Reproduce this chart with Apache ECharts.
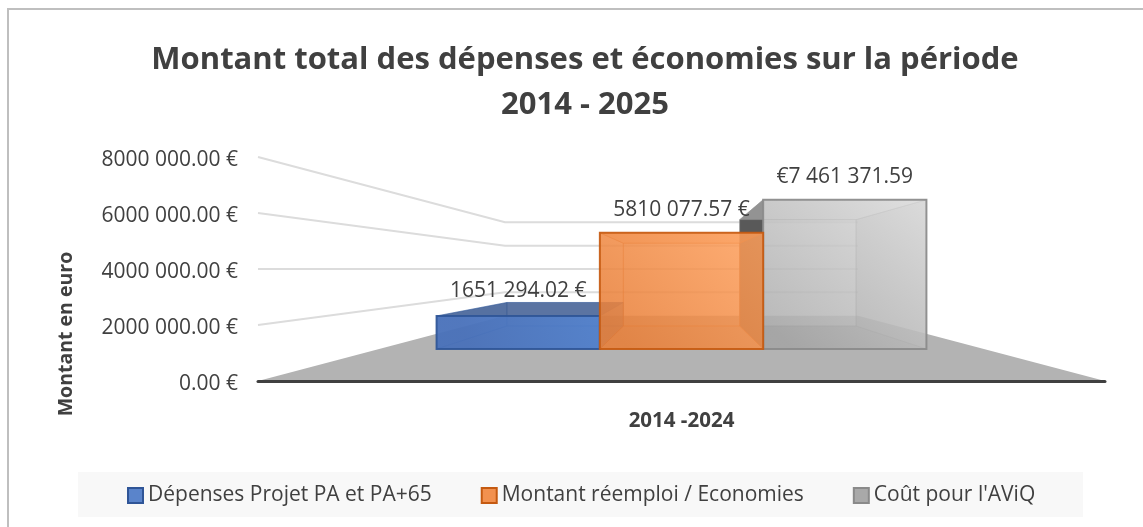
<!DOCTYPE html>
<html>
<head>
<meta charset="utf-8">
<style>
  html, body { margin: 0; padding: 0; background: #fff; }
  #chart { width: 1143px; height: 527px; }
</style>
<script src="https://cdn.jsdelivr.net/npm/echarts@6/dist/echarts.min.js"></script>
</head>
<body>
<div id="chart"></div>
<script>
var categories = ['2014 -2024'];
var seriesNames = ['Dépenses Projet PA et PA+65', 'Montant réemploi / Economies', "Coût pour l'AViQ"];
var depenses = [1651294.02];
var reemploi = [5810077.57];
var coutAviq = [7461371.59];
var tickValues = [0, 2000000, 4000000, 6000000, 8000000];
var tickLabels = ['0.00 €', '2000 000.00 €', '4000 000.00 €', '6000 000.00 €', '8000 000.00 €'];
var dataLabels = ['1651 294.02 €', '5810 077.57 €', '€7 461 371.59'];

var font = '"Open Sans", "Noto Sans", sans-serif';
var textColor = '#404040';

// depth of each plane, 1 = front of the floor
var WALL = 0.4168, BAR_FRONT = 0.714, BAR_BACK = 0.509;
var BARS_SHARE = 0.81; // part of the band taken by the 3 bars

// colours of the faces, lit top right like in the original
var faces = [
  { // blue
    edge: '#2f5597',
    frontTop: 'rgba(80,128,205,0.92)', frontBottom: 'rgba(72,112,185,0.92)',
    back: 'rgba(68,114,196,0.22)', side: 'rgba(84,132,212,0.35)',
    top: 'rgba(50,80,135,0.75)', bottom: 'rgba(68,114,196,0.25)', right: 'rgba(40,60,100,0.4)'
  },
  { // orange
    edge: '#c55a11',
    frontTop: 'rgba(255,160,92,0.82)', frontBottom: 'rgba(232,128,58,0.86)',
    back: 'rgba(237,125,49,0.12)', side: 'rgba(237,125,49,0.12)',
    top: 'rgba(237,125,49,0.35)', bottom: 'rgba(205,105,40,0.2)', right: 'rgba(205,105,40,0.15)'
  },
  { // gray
    edge: '#8a8a8a',
    frontTop: 'rgba(222,222,222,0.75)', frontBottom: 'rgba(165,165,165,0.7)',
    back: 'rgba(215,215,215,0.5)', side: 'rgba(89,89,89,1)',
    top: 'rgba(205,205,205,0.5)', bottom: 'rgba(150,150,150,0.35)', right: 'rgba(175,175,175,0.55)'
  }
];
var labelLift = [11, 23, 23];

function projector(api, params) {
  var cs = params.coordSys;
  var vx = cs.x + cs.width / 2;
  var vy = api.coord([0, tickValues[2]])[1];
  return function (x, y, s) {
    return [vx + (x - vx) * s, vy + (y - vy) * s];
  };
}

// floor and the gridlines bending along the left wall
function renderBackdrop(params, api) {
  var cs = params.coordSys;
  var p = projector(api, params);
  var left = cs.x, right = cs.x + cs.width;
  var y = api.coord([0, api.value(0)])[1];
  if (api.value(0) === 0) {
    return {
      type: 'polygon',
      shape: { points: [p(left, y, 1), p(right, y, 1), p(right, y, WALL), p(left, y, WALL)] },
      style: { fill: '#b3b3b3' }
    };
  }
  return {
    type: 'polyline',
    shape: { points: [p(left, y, 1), p(left, y, WALL), p(right, y, WALL)] },
    style: { fill: null, stroke: '#dcdcdc', lineWidth: 2 }
  };
}

function makeBarRender(idx) {
  return function (params, api) {
    var p = projector(api, params);
    var f = faces[idx];
    var center = api.coord([0, 0])[0];
    var w = api.size([1, 0])[0] * BARS_SHARE / 3;
    var x0 = center + (idx - 1.5) * w, x1 = x0 + w;
    var yb = api.coord([0, 0])[1];
    var yt = api.coord([0, api.value(1)])[1];

    var fbl = p(x0, yb, BAR_FRONT), fbr = p(x1, yb, BAR_FRONT), ftl = p(x0, yt, BAR_FRONT), ftr = p(x1, yt, BAR_FRONT);
    var bbl = p(x0, yb, BAR_BACK), bbr = p(x1, yb, BAR_BACK), btl = p(x0, yt, BAR_BACK), btr = p(x1, yt, BAR_BACK);

    function face(points, fill, stroke, lw) {
      return { type: 'polygon', shape: { points: points }, style: { fill: fill, stroke: stroke, lineWidth: lw } };
    }
    var inner = echarts.color.modifyAlpha(f.edge, 0.35);
    var frontFill = new echarts.graphic.LinearGradient(1, 0, 0.2, 1, [
      { offset: 0, color: f.frontTop }, { offset: 1, color: f.frontBottom }
    ]);
    return {
      type: 'group',
      children: [
        face([btl, btr, bbr, bbl], f.back, inner, 1),
        face([bbl, bbr, fbr, fbl], f.bottom, inner, 1),
        face([ftl, btl, bbl, fbl], f.side, inner, 1),
        face([btr, ftr, fbr, bbr], f.right, inner, 1),
        face([ftl, ftr, btr, btl], f.top, inner, 1),
        face([ftl, ftr, fbr, fbl], frontFill, echarts.color.modifyAlpha(f.edge, 0.9), 2),
        {
          type: 'text',
          x: (ftl[0] + ftr[0]) / 2,
          y: Math.min(ftl[1], btl[1]) - labelLift[idx],
          z2: 10,
          style: {
            text: dataLabels[idx], font: '21px ' + font, fill: textColor,
            align: 'center', verticalAlign: 'middle'
          }
        }
      ]
    };
  };
}

function barSeries(idx, values, z) {
  return {
    name: seriesNames[idx],
    type: 'custom',
    z: z,
    renderItem: makeBarRender(idx),
    encode: { x: 0, y: 1 },
    itemStyle: { color: ['#5a84cb', '#f2914f', '#a9a9a9'][idx], borderColor: faces[idx].edge, borderWidth: 2 },
    data: values.map(function (v, i) { return [i, v]; })
  };
}

var chart = echarts.init(document.getElementById('chart'), null, { renderer: 'canvas' });
chart.setOption({
  animation: false,
  backgroundColor: '#fff',
  textStyle: { fontFamily: font },
  title: {
    text: 'Montant total des dépenses et économies sur la période\n2014 - 2025',
    left: 580,
    top: 33,
    textAlign: 'center',
    textStyle: { fontFamily: font, fontSize: 31, fontWeight: 'bold', color: textColor, lineHeight: 45 }
  },
  grid: { left: 258, right: 38, top: 157, bottom: 146 },
  legend: {
    data: seriesNames,
    left: 122,
    top: 480,
    icon: 'rect',
    itemWidth: 15,
    itemHeight: 15,
    itemGap: 49,
    textStyle: { fontFamily: font, fontSize: 21, color: textColor }
  },
  xAxis: {
    type: 'category',
    data: categories,
    z: 6,
    axisTick: { show: false },
    axisLine: { lineStyle: { color: '#404040', width: 3 } },
    axisLabel: { margin: 30, fontFamily: font, fontSize: 20.5, fontWeight: 'bold', color: textColor }
  },
  yAxis: {
    type: 'value',
    min: 0,
    max: 8000000,
    interval: 2000000,
    splitLine: { show: false },
    axisLine: { show: false },
    axisTick: { show: false },
    axisLabel: {
      margin: 20,
      formatter: function (v) { return '{t|' + tickLabels[tickValues.indexOf(v)] + '}'; },
      rich: {
        t: { padding: [7, 0, 0, 0], fontFamily: font, fontSize: 21, color: textColor }
      }
    }
  },
  graphic: [
    { type: 'rect', z: -10, shape: { x: 8, y: 9, width: 1200, height: 530 }, style: { fill: '#fff', stroke: '#bfbfbf', lineWidth: 2 } },
    { type: 'rect', z: -9, shape: { x: 78, y: 472, width: 1005, height: 45 }, style: { fill: '#f8f8f8' } },
    {
      type: 'text', z: 5, x: 66, y: 334, rotation: Math.PI / 2,
      style: { text: 'Montant en euro', font: 'bold 19.5px ' + font, fill: textColor, align: 'center', verticalAlign: 'middle' }
    }
  ],
  series: [
    { type: 'custom', name: 'fond', z: 1, renderItem: renderBackdrop, encode: { y: 0 }, data: tickValues.map(function (v) { return [v]; }) },
    barSeries(0, depenses, 2),
    barSeries(1, reemploi, 4),
    barSeries(2, coutAviq, 3)
  ]
});
</script>
</body>
</html>
